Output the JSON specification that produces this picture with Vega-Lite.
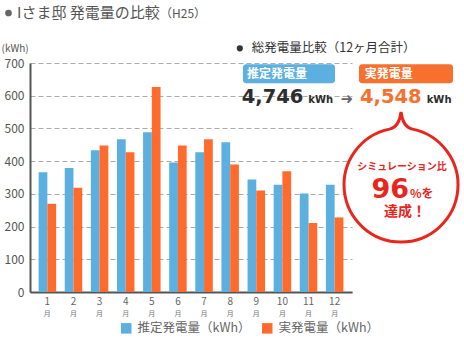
{
  "$schema": "https://vega.github.io/schema/vega-lite/v6.json",
  "width": 322,
  "height": 229,
  "autosize": {"type": "none"},
  "padding": {"left": 30, "top": 63, "right": 112, "bottom": 56},
  "background": "white",
  "config": {"view": {"stroke": null}, "font": "Noto Sans CJK JP"},
  "data": {"values": [
    {"month": 1, "series": "推定発電量（kWh）", "value": 366},
    {"month": 2, "series": "推定発電量（kWh）", "value": 379},
    {"month": 3, "series": "推定発電量（kWh）", "value": 433},
    {"month": 4, "series": "推定発電量（kWh）", "value": 467},
    {"month": 5, "series": "推定発電量（kWh）", "value": 488},
    {"month": 6, "series": "推定発電量（kWh）", "value": 396},
    {"month": 7, "series": "推定発電量（kWh）", "value": 427},
    {"month": 8, "series": "推定発電量（kWh）", "value": 458},
    {"month": 9, "series": "推定発電量（kWh）", "value": 344},
    {"month": 10, "series": "推定発電量（kWh）", "value": 328},
    {"month": 11, "series": "推定発電量（kWh）", "value": 301},
    {"month": 12, "series": "推定発電量（kWh）", "value": 328},
    {"month": 1, "series": "実発電量（kWh）", "value": 270},
    {"month": 2, "series": "実発電量（kWh）", "value": 319},
    {"month": 3, "series": "実発電量（kWh）", "value": 448},
    {"month": 4, "series": "実発電量（kWh）", "value": 427},
    {"month": 5, "series": "実発電量（kWh）", "value": 627},
    {"month": 6, "series": "実発電量（kWh）", "value": 448},
    {"month": 7, "series": "実発電量（kWh）", "value": 467},
    {"month": 8, "series": "実発電量（kWh）", "value": 390},
    {"month": 9, "series": "実発電量（kWh）", "value": 310},
    {"month": 10, "series": "実発電量（kWh）", "value": 369},
    {"month": 11, "series": "実発電量（kWh）", "value": 211},
    {"month": 12, "series": "実発電量（kWh）", "value": 228}
  ]},
  "resolve": {"scale": {"x": "independent", "y": "independent"}, "axis": {"x": "independent", "y": "independent"}},
  "layer": [
    {
      "layer": [
        {
          "mark": {"type": "bar"},
          "encoding": {
            "x": {"field": "month", "type": "ordinal", "scale": {"paddingInner": 0.33, "paddingOuter": 0.33},
              "axis": {"title": null, "labelAngle": 0, "ticks": false, "domainColor": "#555", "domainWidth": 2, "labelFontSize": 10, "labelColor": "#666", "labelPadding": 4, "labelFont": "Noto Sans CJK JP"}},
            "xOffset": {"field": "series", "type": "nominal", "sort": ["推定発電量（kWh）", "実発電量（kWh）"]},
            "y": {"field": "value", "type": "quantitative", "scale": {"domain": [0, 700], "nice": false},
              "axis": {"values": [0, 100, 200, 300, 400, 500, 600, 700], "title": "(kWh)", "titleAngle": 0, "titleX": -29, "titleY": -15, "titleAlign": "left", "titleBaseline": "middle", "titleFontSize": 10, "titleFontWeight": "normal", "titleColor": "#555", "titleFont": "Noto Sans CJK JP", "labelFontSize": 12, "labelColor": "#555", "labelFont": "Noto Sans CJK JP", "ticks": false, "labelPadding": 6, "domainColor": "#555", "domainWidth": 2, "gridColor": "#aaa", "gridDash": [5, 3], "gridWidth": 1}},
            "color": {"field": "series", "type": "nominal",
              "scale": {"domain": ["推定発電量（kWh）", "実発電量（kWh）"], "range": ["#5BB0E0", "#FF6B2C"]},
              "legend": {"title": null, "orient": "none", "legendX": 90, "legendY": 259, "direction": "horizontal", "symbolType": "square", "symbolSize": 110, "symbolStrokeWidth": 0, "labelFontSize": 12.5, "labelColor": "#666", "labelFont": "Noto Sans CJK JP", "labelOffset": 5, "columnPadding": 10}}
          }
        },
        {
          "transform": [{"filter": "datum.series === '推定発電量（kWh）'"}],
          "mark": {"type": "text", "text": "月", "fontSize": 7, "color": "#777", "baseline": "middle"},
          "encoding": {
            "x": {"field": "month", "type": "ordinal"},
            "y": {"datum": -66, "type": "quantitative",
              "axis": {"values": [0, 100, 200, 300, 400, 500, 600, 700], "title": "(kWh)", "titleAngle": 0, "titleX": -29, "titleY": -15, "titleAlign": "left", "titleBaseline": "middle", "titleFontSize": 10, "titleFontWeight": "normal", "titleColor": "#555", "titleFont": "Noto Sans CJK JP", "labelFontSize": 12, "labelColor": "#555", "labelFont": "Noto Sans CJK JP", "ticks": false, "labelPadding": 6, "domainColor": "#555", "domainWidth": 2, "gridColor": "#aaa", "gridDash": [5, 3], "gridWidth": 1}}
          }
        }
      ]
    },
    {
      "data": {"values": [{}]},
      "layer": [
        {
          "mark": {"type": "point", "shape": "circle", "filled": true, "color": "#666", "opacity": 1, "size": 45},
          "encoding": {
            "x": {"datum": -0.492, "type": "quantitative", "scale": {"domain": [0.332, 12.669], "nice": false, "zero": false}, "axis": null},
            "y": {"datum": 852.8, "type": "quantitative", "scale": {"domain": [0, 700], "nice": false}, "axis": null}
          }
        },
        {
          "mark": {"type": "text", "text": "Iさま邸 発電量の比較", "fontSize": 15, "color": "#555", "align": "left", "baseline": "middle"},
          "encoding": {
            "x": {"datum": -0.166, "type": "quantitative", "scale": {"domain": [0.332, 12.669], "nice": false, "zero": false}, "axis": null},
            "y": {"datum": 852.8, "type": "quantitative", "scale": {"domain": [0, 700], "nice": false}, "axis": null}
          }
        },
        {
          "mark": {"type": "text", "text": "（H25）", "fontSize": 12, "color": "#555", "align": "left", "baseline": "middle"},
          "encoding": {
            "x": {"datum": 5.313, "type": "quantitative", "scale": {"domain": [0.332, 12.669], "nice": false, "zero": false}, "axis": null},
            "y": {"datum": 850, "type": "quantitative", "scale": {"domain": [0, 700], "nice": false}, "axis": null}
          }
        },
        {
          "mark": {"type": "point", "shape": "circle", "filled": true, "color": "#333", "opacity": 1, "size": 38},
          "encoding": {
            "x": {"datum": 8.371, "type": "quantitative", "scale": {"domain": [0.332, 12.669], "nice": false, "zero": false}, "axis": null},
            "y": {"datum": 744.9, "type": "quantitative", "scale": {"domain": [0, 700], "nice": false}, "axis": null}
          }
        },
        {
          "mark": {"type": "text", "text": "総発電量比較（12ヶ月合計）", "fontSize": 12.5, "color": "#333", "align": "left", "baseline": "middle"},
          "encoding": {
            "x": {"datum": 8.826, "type": "quantitative", "scale": {"domain": [0.332, 12.669], "nice": false, "zero": false}, "axis": null},
            "y": {"datum": 744.9, "type": "quantitative", "scale": {"domain": [0, 700], "nice": false}, "axis": null}
          }
        },
        {
          "mark": {"type": "rect", "color": "#5BB0E0", "cornerRadius": 3},
          "encoding": {
            "x": {"datum": 8.493, "type": "quantitative", "scale": {"domain": [0.332, 12.669], "nice": false, "zero": false}, "axis": null},
            "x2": {"datum": 12.018},
            "y": {"datum": 696, "type": "quantitative", "scale": {"domain": [0, 700], "nice": false}, "axis": null},
            "y2": {"datum": 638}
          }
        },
        {
          "mark": {"type": "rect", "color": "#F8702E", "cornerRadius": 3},
          "encoding": {
            "x": {"datum": 12.937, "type": "quantitative", "scale": {"domain": [0.332, 12.669], "nice": false, "zero": false}, "axis": null},
            "x2": {"datum": 16.539},
            "y": {"datum": 696, "type": "quantitative", "scale": {"domain": [0, 700], "nice": false}, "axis": null},
            "y2": {"datum": 638}
          }
        },
        {
          "mark": {"type": "text", "text": "推定発電量", "fontSize": 12, "fontWeight": "bold", "color": "white", "align": "left", "baseline": "middle"},
          "encoding": {
            "x": {"datum": 8.646, "type": "quantitative", "scale": {"domain": [0.332, 12.669], "nice": false, "zero": false}, "axis": null},
            "y": {"datum": 666.4, "type": "quantitative", "scale": {"domain": [0, 700], "nice": false}, "axis": null}
          }
        },
        {
          "mark": {"type": "text", "text": "実発電量", "fontSize": 12, "fontWeight": "bold", "color": "white", "align": "left", "baseline": "middle"},
          "encoding": {
            "x": {"datum": 13.16, "type": "quantitative", "scale": {"domain": [0.332, 12.669], "nice": false, "zero": false}, "axis": null},
            "y": {"datum": 666.4, "type": "quantitative", "scale": {"domain": [0, 700], "nice": false}, "axis": null}
          }
        },
        {
          "mark": {"type": "text", "text": "4,746", "font": "DejaVu Sans", "fontSize": 19.5, "fontWeight": "bold", "color": "#2d2d2d", "align": "left", "baseline": "alphabetic"},
          "encoding": {
            "x": {"datum": 8.443, "type": "quantitative", "scale": {"domain": [0.332, 12.669], "nice": false, "zero": false}, "axis": null},
            "y": {"datum": 576.8, "type": "quantitative", "scale": {"domain": [0, 700], "nice": false}, "axis": null}
          }
        },
        {
          "mark": {"type": "text", "text": "kWh", "font": "DejaVu Sans", "fontSize": 10, "fontWeight": "bold", "color": "#2d2d2d", "align": "left", "baseline": "alphabetic"},
          "encoding": {
            "x": {"datum": 10.995, "type": "quantitative", "scale": {"domain": [0.332, 12.669], "nice": false, "zero": false}, "axis": null},
            "y": {"datum": 576.8, "type": "quantitative", "scale": {"domain": [0, 700], "nice": false}, "axis": null}
          }
        },
        {
          "mark": {"type": "text", "text": "➜", "font": "DejaVu Sans", "fontSize": 15, "color": "#666", "align": "center", "baseline": "middle"},
          "encoding": {
            "x": {"datum": 12.466, "type": "quantitative", "scale": {"domain": [0.332, 12.669], "nice": false, "zero": false}, "axis": null},
            "y": {"datum": 590, "type": "quantitative", "scale": {"domain": [0, 700], "nice": false}, "axis": null}
          }
        },
        {
          "mark": {"type": "text", "text": "4,548", "font": "DejaVu Sans", "fontSize": 19.5, "fontWeight": "bold", "color": "#F8702E", "align": "left", "baseline": "alphabetic"},
          "encoding": {
            "x": {"datum": 12.976, "type": "quantitative", "scale": {"domain": [0.332, 12.669], "nice": false, "zero": false}, "axis": null},
            "y": {"datum": 576.8, "type": "quantitative", "scale": {"domain": [0, 700], "nice": false}, "axis": null}
          }
        },
        {
          "mark": {"type": "text", "text": "kWh", "font": "DejaVu Sans", "fontSize": 10, "fontWeight": "bold", "color": "#2d2d2d", "align": "left", "baseline": "alphabetic"},
          "encoding": {
            "x": {"datum": 15.531, "type": "quantitative", "scale": {"domain": [0.332, 12.669], "nice": false, "zero": false}, "axis": null},
            "y": {"datum": 576.8, "type": "quantitative", "scale": {"domain": [0, 700], "nice": false}, "axis": null}
          }
        },
        {
          "mark": {"type": "point", "filled": false, "fill": "white", "fillOpacity": 1, "stroke": "#E8261E", "strokeWidth": 3, "opacity": 1, "size": 12996,
            "shape": "M -0.2001 -0.9798 Q -0.03 -1.02 0 -1.28 Q 0.03 -1.02 0.2001 -0.9798 C 0.7031 -0.8771 1.0465 -0.4103 0.9949 0.1005 C 0.9433 0.6113 0.5134 1 0 1 C -0.5134 1 -0.9433 0.6113 -0.9949 0.1005 C -1.0465 -0.4103 -0.7031 -0.8771 -0.2001 -0.9798 Z"},
          "encoding": {
            "x": {"datum": 14.547, "type": "quantitative", "scale": {"domain": [0.332, 12.669], "nice": false, "zero": false}, "axis": null},
            "y": {"datum": 327.1, "type": "quantitative", "scale": {"domain": [0, 700], "nice": false}, "axis": null}
          }
        },
        {
          "mark": {"type": "text", "text": "シミュレーション比", "fontSize": 10, "fontWeight": "bold", "color": "#E8261E", "align": "center", "baseline": "middle"},
          "encoding": {
            "x": {"datum": 14.585, "type": "quantitative", "scale": {"domain": [0.332, 12.669], "nice": false, "zero": false}, "axis": null},
            "y": {"datum": 382.1, "type": "quantitative", "scale": {"domain": [0, 700], "nice": false}, "axis": null}
          }
        },
        {
          "mark": {"type": "text", "text": "96", "font": "DejaVu Sans", "fontSize": 27, "fontWeight": "bold", "color": "#E8261E", "align": "right", "baseline": "alphabetic"},
          "encoding": {
            "x": {"datum": 14.853, "type": "quantitative", "scale": {"domain": [0.332, 12.669], "nice": false, "zero": false}, "axis": null},
            "y": {"datum": 287.3, "type": "quantitative", "scale": {"domain": [0, 700], "nice": false}, "axis": null}
          }
        },
        {
          "mark": {"type": "text", "text": "%を", "fontSize": 12, "fontWeight": "bold", "color": "#E8261E", "align": "left", "baseline": "alphabetic"},
          "encoding": {
            "x": {"datum": 14.891, "type": "quantitative", "scale": {"domain": [0.332, 12.669], "nice": false, "zero": false}, "axis": null},
            "y": {"datum": 287.3, "type": "quantitative", "scale": {"domain": [0, 700], "nice": false}, "axis": null}
          }
        },
        {
          "mark": {"type": "text", "text": "達成！", "fontSize": 14, "fontWeight": "bold", "color": "#E8261E", "align": "center", "baseline": "middle"},
          "encoding": {
            "x": {"datum": 14.7, "type": "quantitative", "scale": {"domain": [0.332, 12.669], "nice": false, "zero": false}, "axis": null},
            "y": {"datum": 244, "type": "quantitative", "scale": {"domain": [0, 700], "nice": false}, "axis": null}
          }
        }
      ]
    }
  ]
}
